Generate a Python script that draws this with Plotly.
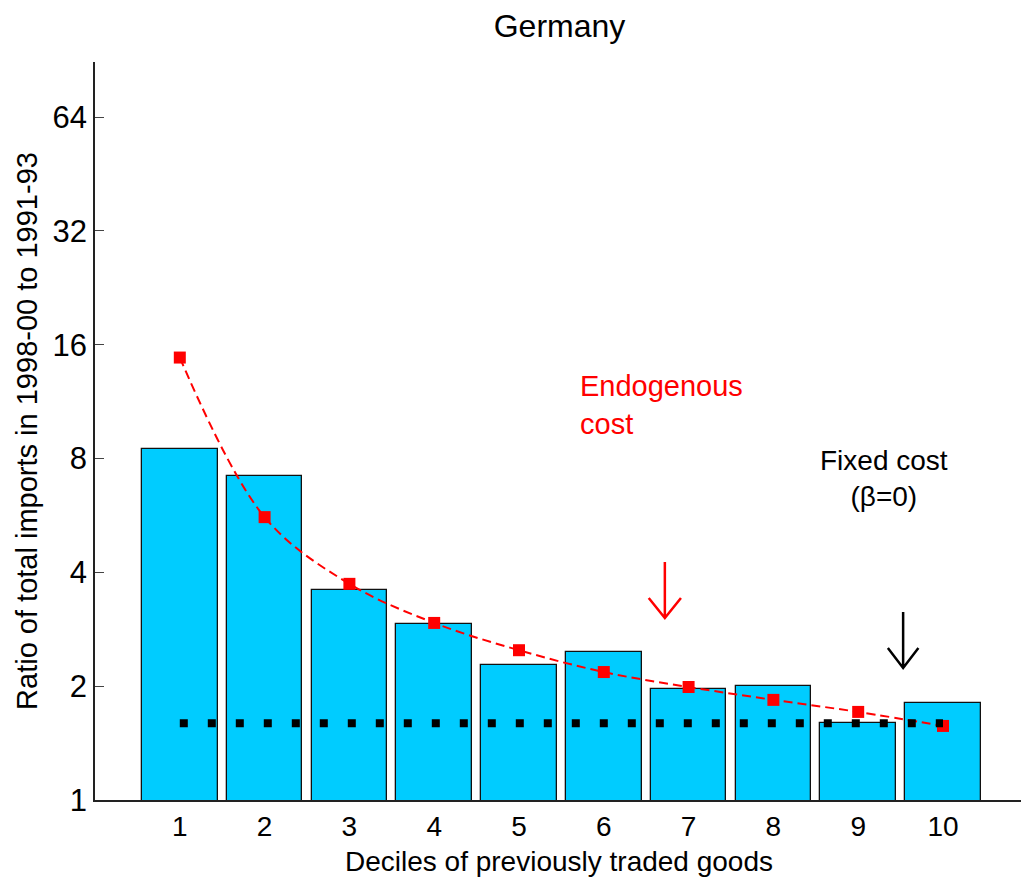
import plotly.graph_objects as go

deciles = [1, 2, 3, 4, 5, 6, 7, 8, 9, 10]
data_ratio = [8.47, 7.21, 3.59, 2.92, 2.28, 2.47, 1.97, 2.00, 1.60, 1.81]
endogenous_cost = [14.8, 5.60, 3.73, 2.94, 2.49, 2.18, 1.99, 1.84, 1.71, 1.57]
fixed_cost = [1.595] * 10
y_ticks = [1, 2, 4, 8, 16, 32, 64]
x_ticks = deciles

FONT = "Liberation Sans, Arial, sans-serif"

fig = go.Figure()
fig.add_trace(go.Bar(
    x=deciles, y=data_ratio, width=0.89,
    marker=dict(color="#00CCFF", line=dict(color="#111111", width=1.3)),
    showlegend=False,
))
fig.add_trace(go.Scatter(
    x=deciles, y=endogenous_cost, mode="lines+markers",
    line=dict(color="#FF0000", width=2, dash="9px,5px", shape="spline", smoothing=1.0),
    marker=dict(symbol="square", size=12, color="#FF0000"),
    showlegend=False,
))
fig.add_trace(go.Scatter(
    x=deciles, y=fixed_cost, mode="lines",
    line=dict(color="black", width=8, dash="8px,20px"),
    showlegend=False,
))

PLOT_TOP, PLOT_BOT = 62, 800
def py(p):
    return (PLOT_BOT - p) / (PLOT_BOT - PLOT_TOP)

def arrow(xc, top, tip, arm_y, half_w, color):
    return dict(
        type="path", xref="x", yref="paper",
        path=(f"M {xc},{py(top)} L {xc},{py(tip)} "
              f"M {xc - half_w},{py(arm_y)} L {xc},{py(tip)} L {xc + half_w},{py(arm_y)}"),
        line=dict(color=color, width=2.5),
    )

fig.update_layout(
    width=1021, height=880,
    margin=dict(l=95, r=0, t=62, b=80),
    paper_bgcolor="white", plot_bgcolor="white",
    font=dict(family=FONT, color="black"),
    title=dict(text="Germany", x=0.548, xanchor="center", y=1 - 26 / 880, yanchor="middle",
               font=dict(size=32, family=FONT, color="black")),
    bargap=0,
    xaxis=dict(
        range=[0, 10.92], tickvals=x_ticks, ticktext=[str(v) for v in x_ticks],
        ticks="", showline=True, linecolor="#222222", linewidth=1.5,
        showgrid=False, zeroline=False, ticklabelstandoff=1,
        tickfont=dict(size=28, family=FONT, color="black"),
    ),
    yaxis=dict(
        type="log", range=[0, 1.952], tickvals=y_ticks, ticktext=[str(v) for v in y_ticks],
        ticks="inside", ticklen=9, tickcolor="#444444", tickwidth=1.2,
        showline=True, linecolor="#222222", linewidth=1.5,
        showgrid=False, zeroline=False,
        tickfont=dict(size=31, family=FONT, color="black"),
        title=dict(text="Ratio of total imports in 1998-00 to 1991-93", standoff=6,
                   font=dict(size=29, family=FONT, color="black")),
    ),
    shapes=[
        arrow(6.72, 562, 618, 598, 0.19, "#FF0000"),
        arrow(9.53, 612, 668, 648, 0.18, "black"),
    ],
    annotations=[
        dict(text="Deciles of previously traded goods", xref="paper", yref="paper",
             x=(559 - 95) / (1021 - 95), y=py(861), xanchor="center", yanchor="middle",
             showarrow=False, font=dict(size=28, family=FONT, color="black")),
        dict(text="Endogenous<br>cost", xref="x", yref="paper", x=5.70, y=py(368),
             xanchor="left", yanchor="top", align="left", showarrow=False,
             font=dict(size=29, family=FONT, color="#FF0000")),
        dict(text="Fixed cost<br>(β=0)", xref="x", yref="paper", x=9.30, y=py(443),
             xanchor="center", yanchor="top", align="center", showarrow=False,
             font=dict(size=28, family=FONT, color="black")),
    ],
)

fig.write_html("out.html")
